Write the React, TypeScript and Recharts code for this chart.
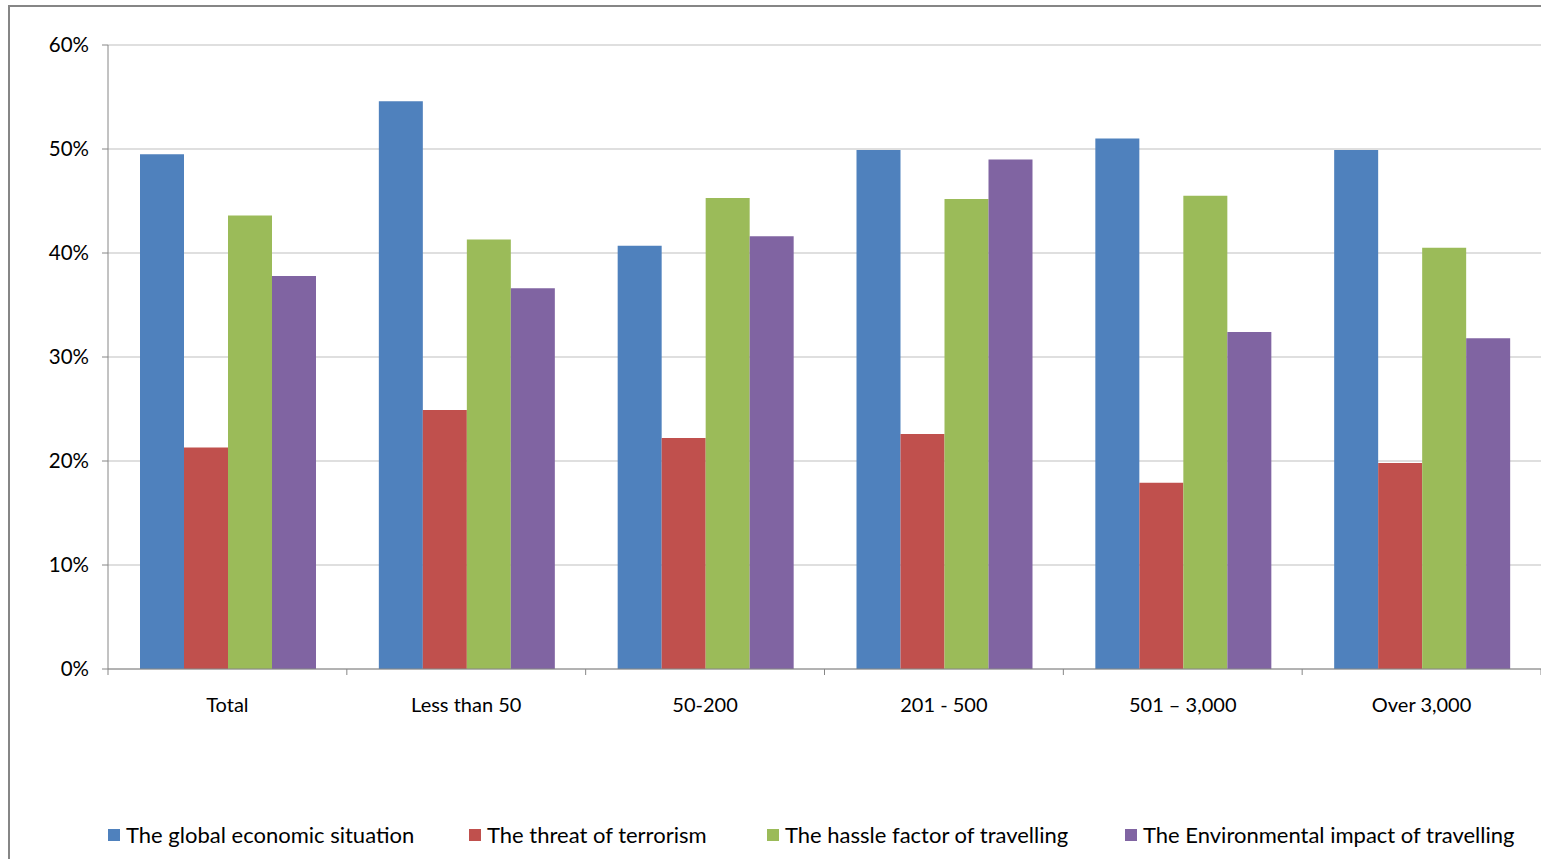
import React from 'react';
import { BarChart, Bar, XAxis, YAxis, CartesianGrid } from 'recharts';

const categories = ['Total', 'Less than 50', '50-200', '201 - 500', '501 – 3,000', 'Over 3,000'];
const economic = [49.5, 54.6, 40.7, 49.9, 51.0, 49.9];
const terrorism = [21.3, 24.9, 22.2, 22.6, 17.9, 19.8];
const hassle = [43.6, 41.3, 45.3, 45.2, 45.5, 40.5];
const environmental = [37.8, 36.6, 41.6, 49.0, 32.4, 31.8];
const yTicks = [0, 10, 20, 30, 40, 50, 60];
const boundaryTicks = [0, 1, 2, 3, 4, 5, 6];

const series = [
  { key: 'economic', label: 'The global economic situation', color: '#4F81BD' },
  { key: 'terrorism', label: 'The threat of terrorism', color: '#C0504D' },
  { key: 'hassle', label: 'The hassle factor of travelling', color: '#9BBB59' },
  { key: 'environmental', label: 'The Environmental impact of travelling', color: '#8064A2' },
];

const data = categories.map((name, i) => ({
  name,
  idx: i + 0.5,
  economic: economic[i],
  terrorism: terrorism[i],
  hassle: hassle[i],
  environmental: environmental[i],
}));

const legendLeft = [108, 469, 767, 1125];
const font = 'Lato, "Open Sans", sans-serif';

export default function App() {
  return (
    <div style={{ position: 'absolute', left: 0, top: 0, width: 1541, height: 859, background: '#fff', fontFamily: font, overflow: 'hidden' }}>
      <div style={{ position: 'absolute', left: 8, top: 5, width: 1540, height: 2, background: '#868686' }} />
      <div style={{ position: 'absolute', left: 8, top: 5, width: 2, height: 860, background: '#868686' }} />
      <BarChart
        width={1541}
        height={859}
        data={data}
        margin={{ top: 45, right: 0, left: 8, bottom: 129 }}
        barCategoryGap="13.4%"
        barGap={0}
      >
        <CartesianGrid vertical={false} stroke="#bfbfbf" xAxisId="b_cat" />
        <XAxis
          xAxisId="a_bounds"
          type="number"
          dataKey="idx"
          domain={[0, 6]}
          ticks={boundaryTicks}
          tickFormatter={() => ''}
          height={1}
          axisLine={{ stroke: '#868686' }}
          tickLine={{ stroke: '#868686' }}
          tickSize={6}
        />
        <XAxis
          xAxisId="b_cat"
          dataKey="name"
          height={60}
          axisLine={false}
          tickLine={false}
          tickMargin={22}
          tick={{ fontSize: 20, fill: '#000', fontFamily: font }}
        />
        <YAxis
          width={100}
          domain={[0, 60]}
          ticks={yTicks}
          tickFormatter={(v: number) => `${v}%`}
          axisLine={{ stroke: '#868686' }}
          tickLine={{ stroke: '#868686' }}
          tickSize={6}
          tickMargin={13}
          tick={{ fontSize: 20.5, fill: '#000', fontFamily: font }}
        />
        {series.map((s) => (
          <Bar key={s.key} xAxisId="b_cat" dataKey={s.key} fill={s.color} isAnimationActive={false} />
        ))}
      </BarChart>
      {series.map((s, i) => (
        <div
          key={s.key}
          style={{ position: 'absolute', left: legendLeft[i], top: 821, display: 'flex', alignItems: 'center', fontSize: 22, color: '#000', whiteSpace: 'nowrap' }}
        >
          <span style={{ display: 'inline-block', width: 12, height: 12, background: s.color, marginRight: 6 }} />
          <span>{s.label}</span>
        </div>
      ))}
    </div>
  );
}
